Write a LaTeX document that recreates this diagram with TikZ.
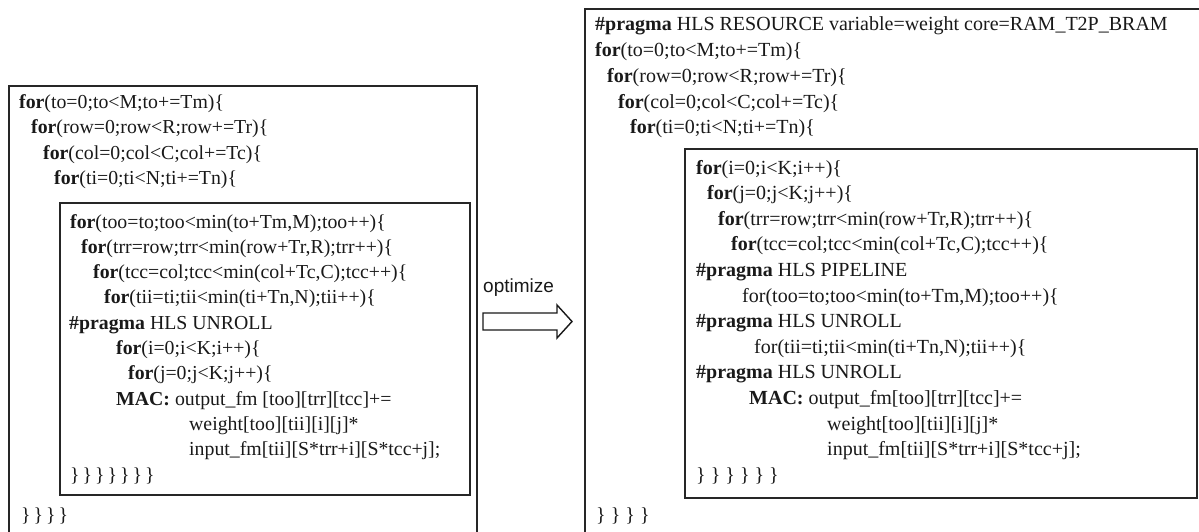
\documentclass[tikz,border=0pt]{standalone}
\usepackage{fontspec}
\setmainfont{Liberation Serif}
\newfontfamily\labelfont{Liberation Sans}
\usetikzlibrary{calc}

\newcommand{\kw}[1]{\textbf{#1}}
% closing braces, a little tighter on the left
\newcommand{\cbl}{\}\hspace{3pt}}

\tikzset{
  codebox/.style={draw=black!85, line width=1.8pt},
  leftcode/.style={anchor=base west, inner sep=0pt, text=black!90,
    font=\fontsize{19.8}{25}\selectfont},
  rightcode/.style={anchor=base west, inner sep=0pt, text=black!90,
    font=\fontsize{20}{25}\selectfont},
  bigarrow/.style={draw=black!90, line width=1.4pt, fill=white, line join=miter},
}

\begin{document}
\begin{tikzpicture}[x=1pt,y=-1pt]
    \useasboundingbox (0,0) rectangle (1199,532);
    \fill[white] (0,0) rectangle (1199,532);
    \clip (0,0) rectangle (1199,532);

    % boxes, the outer ones run off the page
    \draw[codebox] (9,86) rectangle (477,560);
    \draw[codebox] (60,203) rectangle (470,495);
    \draw[codebox] (585,9) rectangle (1230,560);
    \draw[codebox] (685,149) rectangle (1197,498);

    % left: tiled loops
    \foreach \lx/\ltext [count=\n from 0] in {
        19/{\kw{for}(to=0;to<M;to+=Tm)\{},
        31/{\kw{for}(row=0;row<R;row+=Tr)\{},
        43/{\kw{for}(col=0;col<C;col+=Tc)\{},
        54/{\kw{for}(ti=0;ti<N;ti+=Tn)\{}} {
            \node[leftcode] (lo\n) at ({\lx},{109+25*\n}) {\ltext};
        }
    \foreach \lx/\ltext [count=\n from 0] in {
        70/{\kw{for}(too=to;too<min(to+Tm,M);too++)\{},
        81/{\kw{for}(trr=row;trr<min(row+Tr,R);trr++)\{},
        93/{\kw{for}(tcc=col;tcc<min(col+Tc,C);tcc++)\{},
        104/{\kw{for}(tii=ti;tii<min(ti+Tn,N);tii++)\{},
        69/{\kw{\#pragma} HLS UNROLL},
        116/{\kw{for}(i=0;i<K;i++)\{},
        128/{\kw{for}(j=0;j<K;j++)\{},
        116/{\kw{MAC:} output\_fm [too][trr][tcc]+=},
        189/{weight[too][tii][i][j]*},
        189/{input\_fm[tii][S*trr+i][S*tcc+j];},
        70/{\cbl\cbl\cbl\cbl\cbl\cbl\}}} {
            \node[leftcode] (li\n) at ({\lx},{228+25.3*\n}) {\ltext};
        }
    \node[leftcode] (lend) at (21,521) {\cbl\cbl\cbl\}};

    % arrow between the two versions
    \node[anchor=base west, inner sep=0pt, text=black!90,
          font=\labelfont\fontsize{19}{22}\selectfont] (optlabel) at (483,292) {optimize};
    \draw[bigarrow] (483,313) -- (557,313) -- (557,305) -- (572,321.5)
        -- (557,338) -- (557,330) -- (483,330) -- cycle;

    % right: optimized loops
    \foreach \lx/\ltext [count=\n from 0] in {
        595/{\kw{\#pragma} HLS RESOURCE variable=weight core=RAM\_T2P\_BRAM},
        595/{\kw{for}(to=0;to<M;to+=Tm)\{},
        607/{\kw{for}(row=0;row<R;row+=Tr)\{},
        618/{\kw{for}(col=0;col<C;col+=Tc)\{},
        630/{\kw{for}(ti=0;ti<N;ti+=Tn)\{}} {
            \node[rightcode] (ro\n) at ({\lx},{31+25.75*\n}) {\ltext};
        }
    \foreach \lx/\ltext [count=\n from 0] in {
        696/{\kw{for}(i=0;i<K;i++)\{},
        707/{\kw{for}(j=0;j<K;j++)\{},
        718/{\kw{for}(trr=row;trr<min(row+Tr,R);trr++)\{},
        731/{\kw{for}(tcc=col;tcc<min(col+Tc,C);tcc++)\{},
        696/{\kw{\#pragma} HLS PIPELINE},
        742/{for(too=to;too<min(to+Tm,M);too++)\{},
        696/{\kw{\#pragma} HLS UNROLL},
        754/{for(tii=ti;tii<min(ti+Tn,N);tii++)\{},
        696/{\kw{\#pragma} HLS UNROLL},
        749/{\kw{MAC:} output\_fm[too][trr][tcc]+=},
        827/{weight[too][tii][i][j]*},
        827/{input\_fm[tii][S*trr+i][S*tcc+j];},
        696/{\} \} \} \} \} \}}} {
            \node[rightcode] (ri\n) at ({\lx},{174+25.6*\n}) {\ltext};
        }
    \node[rightcode] (rend) at (596,521) {\} \} \} \}};
\end{tikzpicture}
\end{document}
